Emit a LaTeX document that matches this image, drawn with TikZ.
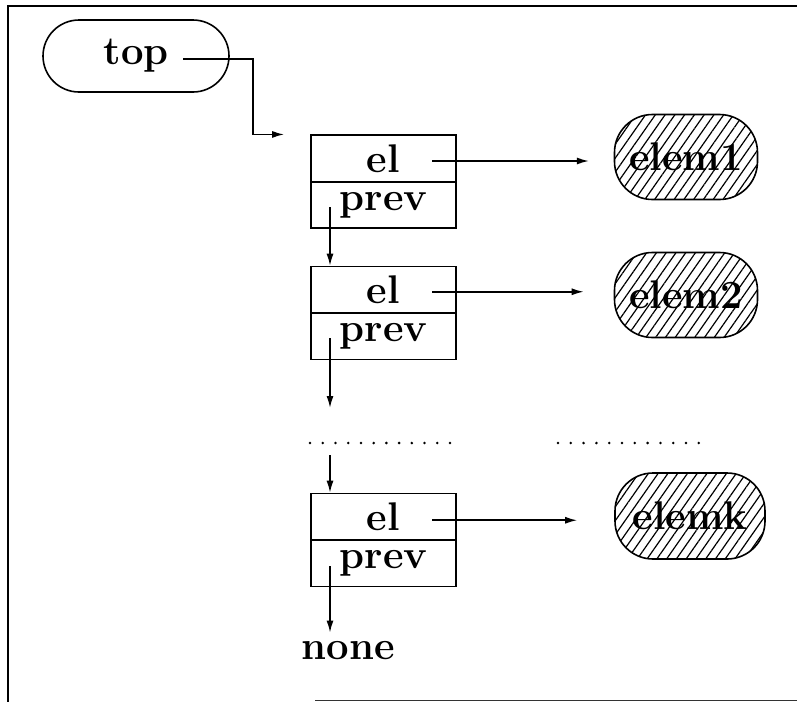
\documentclass[tikz,border=0pt]{standalone}
\usepackage{fontspec}
\usetikzlibrary{arrows.meta,patterns.meta}
\begin{document}
\begin{tikzpicture}[x=1pt,y=-1pt,
  lbl/.style={font=\fontsize{40}{48}\selectfont\bfseries, inner sep=0pt},
  cell/.style={lbl, draw, line width=1.6pt, minimum width=145pt, minimum height=46.5pt},
  elemnode/.style={lbl, draw, line width=1.6pt, rounded corners=38pt,
    minimum width=143pt, minimum height=85pt,
    pattern={Lines[angle=55,distance=8pt,line width=1.2pt]}},
  link/.style={line width=1.6pt, -{Latex[length=12pt,width=7pt]}},
  frame/.style={line width=2pt},
]
\useasboundingbox (0,0) rectangle (797,702);

% page frame (open on the right)
\draw[frame] (797,6) -- (8,6) -- (8,702);
\draw[line width=1.6pt, black!80] (315,700.5) -- (797,700.5);

% stack head
\node[lbl, draw, line width=1.6pt, rounded corners=36pt,
      minimum width=186pt, minimum height=72pt] (top) at (136,56) {top\hspace{24pt}};

% cells of the linked stack
\node[cell] (el1)   at (383.5,158.5) {el\hspace{20pt}};
\node[cell] (prev1) at (383.5,205)   {prev};
\node[cell] (el2)   at (383.5,289.75) {el\hspace{20pt}};
\node[cell] (prev2) at (383.5,336.25) {prev};
\node[cell] (el3)   at (383.5,516.75) {el\hspace{20pt}};
\node[cell] (prev3) at (383.5,563.25) {prev};

% stored elements
\node[elemnode] (elem1) at (686,157) {elem1};
\node[elemnode] (elem2) at (686,295) {elem2};
\node[elemnode, minimum width=150pt, minimum height=86pt] (elemk) at (690,516) {elemk};

\node[lbl] (none) at (348,651) {none};

% pointer from the head to the first cell
\coordinate (t0) at ([xshift=47pt,yshift=-3pt]top.center);
\draw[link] (t0) -- ++(70,0) |- ([xshift=-26pt]el1.north west);

% element pointers
\coordinate (e1) at ([xshift=48.5pt,yshift=-2.5pt]el1.center);
\coordinate (e2) at ([xshift=48.5pt,yshift=-2pt]el2.center);
\coordinate (e3) at ([xshift=48.5pt,yshift=-3.5pt]el3.center);
\draw[link, shorten >=25pt] (e1) -- (e1 -| elem1.west);
\draw[link, shorten >=30pt] (e2) -- (e2 -| elem2.west);
\draw[link, shorten >=37pt] (e3) -- (e3 -| elemk.west);

% prev pointers
\coordinate (p1) at ([xshift=-53.5pt,yshift=-2pt]prev1.center);
\coordinate (p2) at ([xshift=-53.5pt,yshift=-2pt]prev2.center);
\coordinate (p3) at ([xshift=-53.5pt,yshift=-3pt]prev3.center);
\coordinate (g1) at (330,408);
\coordinate (g2) at (330,455);
\draw[link] (p1) -- (p1 |- el2.north);
\draw[link] (p2) -- (g1);
\draw[link] (g2) -- (g2 |- el3.north);
\draw[link, shorten >=9pt] (p3) -- (p3 |- none.north);

% elided rows
\foreach \i in {0,...,11} {
  \fill (310+12.73*\i,443) circle (1.4pt);
  \fill (558+12.8*\i,443) circle (1.4pt);
}
\end{tikzpicture}
\end{document}
